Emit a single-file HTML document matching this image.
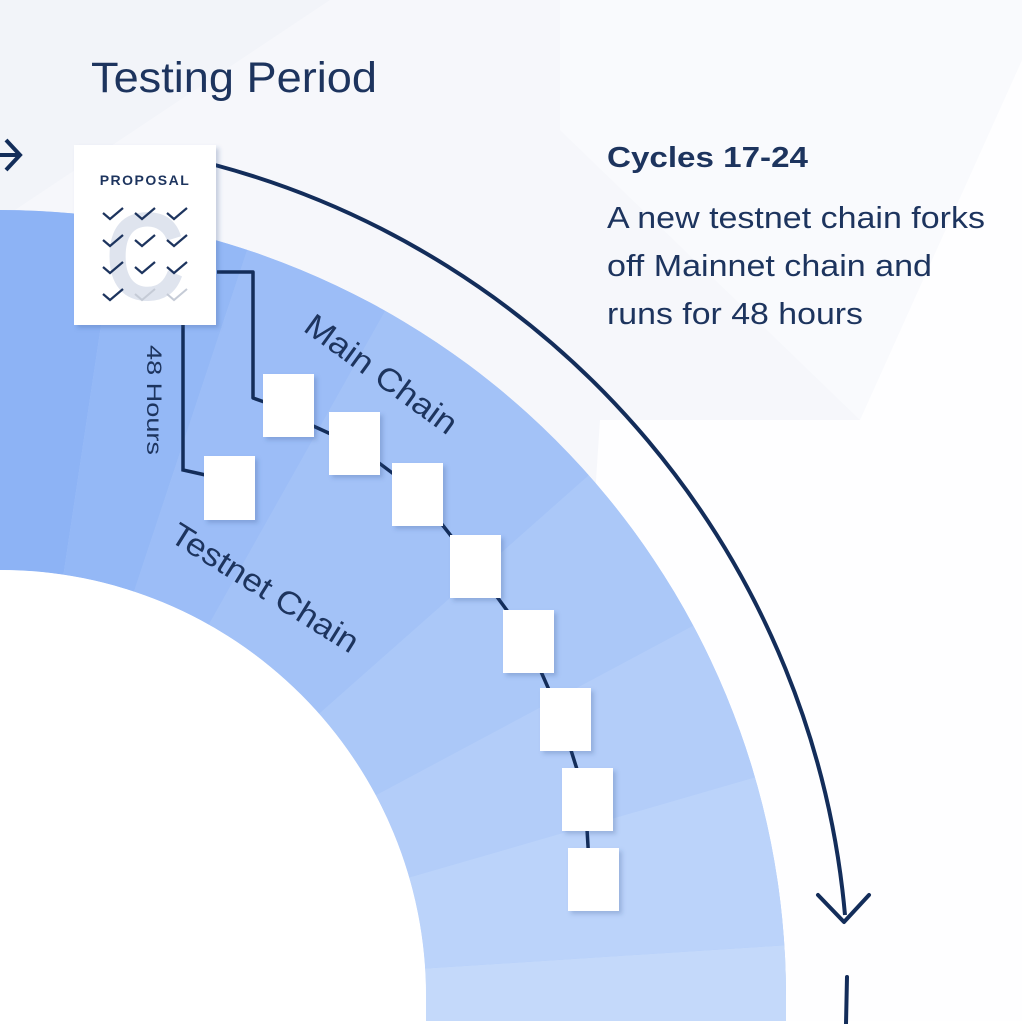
<!DOCTYPE html>
<html><head><meta charset="utf-8"><style>
html,body{margin:0;padding:0;background:#fff}
svg{display:block}
text{font-family:"Liberation Sans",sans-serif}
</style></head><body>
<svg width="1022" height="1024" viewBox="0 0 1022 1024" xmlns="http://www.w3.org/2000/svg">
<defs>
<filter id="sh" x="-20%" y="-20%" width="150%" height="150%"><feDropShadow dx="3" dy="3" stdDeviation="2" flood-color="#30508a" flood-opacity="0.25"/></filter>
<clipPath id="ring"><path d="M0,210 A786,786 0 0 1 786,996 L786,1021 L426,1021 L426,996 A426,426 0 0 0 0,570 Z"/></clipPath>
</defs>
<rect width="1022" height="1024" fill="#f6f7fb"/>
<polygon points="560,0 1022,0 1022,60 860,420 560,130" fill="#f9fafd"/>
<polygon points="600,420 860,420 1022,60 1022,1024 560,1024" fill="#fefeff"/>
<polygon points="0,0 330,0 0,220" fill="#f2f4f9"/>
<!-- ring -->
<g clip-path="url(#ring)">
<rect width="1022" height="1024" fill="#a9c6f7"/>
<path d="M0,996 L0,0 L150,0 Z" fill="#8db3f5"/>
<path d="M0,996 L150,0 L330,0 Z" fill="#94b8f6"/>
<path d="M0,996 L330,0 L560,0 Z" fill="#9cbdf7"/>
<path d="M0,996 L560,0 L900,200 Z" fill="#a3c2f7"/>
<path d="M0,996 L900,200 L1022,450 Z" fill="#abc8f8"/>
<path d="M0,996 L1022,450 L1022,700 Z" fill="#b3cdf9"/>
<path d="M0,996 L1022,700 L1022,930 Z" fill="#bbd3fa"/>
<path d="M0,996 L1022,930 L1022,1024 L0,1024 Z" fill="#c4d9fa"/>
</g>
<rect x="0" y="1021" width="1022" height="3" fill="#fff"/>
<path d="M0,570 A426,426 0 0 1 426,996 L426,1024 L0,1024 Z" fill="#fff"/>
<!-- big arc arrow -->
<path d="M215,165 A855,855 0 0 1 845,915" fill="none" stroke="#132d5a" stroke-width="4"/>
<polyline points="818,895 844,922 869,895" fill="none" stroke="#132d5a" stroke-width="4" stroke-linecap="round" stroke-linejoin="round"/>
<line x1="847" y1="977" x2="846" y2="1024" stroke="#132d5a" stroke-width="4" stroke-linecap="round"/>
<!-- left arrow -->
<polyline points="6,140 20,155 6,170" fill="none" stroke="#132d5a" stroke-width="4"/>
<line x1="0" y1="155" x2="20" y2="155" stroke="#132d5a" stroke-width="4"/>
<!-- chain lines -->
<polyline points="217,272 253,272 253,398 270,404 300,420 355,445 415,490 470,560 525,635 560,715 585,795 590,880" fill="none" stroke="#132d5a" stroke-width="3.5" stroke-linejoin="round"/>
<polyline points="183,325 183,470 210,476" fill="none" stroke="#132d5a" stroke-width="3.5"/>
<!-- boxes -->
<g fill="#fff" filter="url(#sh)">
<rect x="263" y="374" width="51" height="63"/>
<rect x="329" y="412" width="51" height="63"/>
<rect x="392" y="463" width="51" height="63"/>
<rect x="450" y="535" width="51" height="63"/>
<rect x="503" y="610" width="51" height="63"/>
<rect x="540" y="688" width="51" height="63"/>
<rect x="562" y="768" width="51" height="63"/>
<rect x="568" y="848" width="51" height="63"/>
<rect x="204" y="456" width="51" height="64"/>
<rect x="74" y="145" width="142" height="180"/>
</g>
<!-- proposal -->
<text x="145" y="185" text-anchor="middle" font-size="14" font-weight="bold" fill="#1d345e" letter-spacing="1.5">PROPOSAL</text>
<text x="145" y="300" text-anchor="middle" font-size="125" font-weight="bold" fill="#dfe4ee" textLength="80" lengthAdjust="spacingAndGlyphs">C</text>
<g fill="none" stroke="#1d345e" stroke-width="2.2">
<polyline points="103,213 110,219 123,208"/><polyline points="135,213 142,219 155,208"/><polyline points="167,213 174,219 187,208"/>
<polyline points="103,240 110,246 123,235"/><polyline points="135,240 142,246 155,235"/><polyline points="167,240 174,246 187,235"/>
<polyline points="103,267 110,273 123,262"/><polyline points="135,267 142,273 155,262"/><polyline points="167,267 174,273 187,262"/>
<polyline points="103,294 110,300 123,289"/>
</g>
<g fill="none" stroke="#c5cbd6" stroke-width="2"><polyline points="135,294 142,300 155,289"/><polyline points="167,294 174,300 187,289"/></g>
<!-- text -->
<text x="91" y="92" font-size="43" fill="#1d345e" textLength="286" lengthAdjust="spacingAndGlyphs">Testing Period</text>
<text x="607" y="167" font-size="29" font-weight="bold" fill="#1d345e" textLength="201" lengthAdjust="spacingAndGlyphs">Cycles 17-24</text>
<g font-size="31" fill="#1d345e">
<text x="607" y="228" textLength="378" lengthAdjust="spacingAndGlyphs">A new testnet chain forks</text>
<text x="607" y="276" textLength="325" lengthAdjust="spacingAndGlyphs">off Mainnet chain and</text>
<text x="607" y="324" textLength="256" lengthAdjust="spacingAndGlyphs">runs for 48 hours</text>
</g>
<text transform="translate(302,330) rotate(36)" font-size="32" fill="#1d345e" textLength="180" lengthAdjust="spacingAndGlyphs">Main Chain</text>
<text transform="translate(168,540) rotate(32)" font-size="32" fill="#1d345e" textLength="215" lengthAdjust="spacingAndGlyphs">Testnet Chain</text>
<text transform="translate(147,345) rotate(90)" font-size="21" fill="#1d345e" textLength="110" lengthAdjust="spacingAndGlyphs">48 Hours</text>
</svg>
</body></html>
